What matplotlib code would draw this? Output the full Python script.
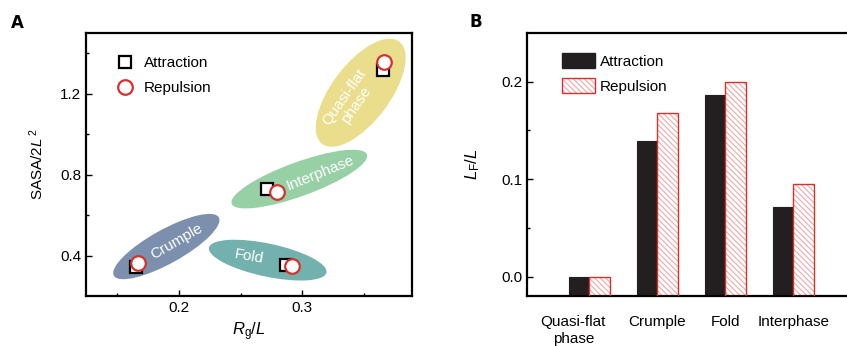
import matplotlib
matplotlib.use("Agg")
import matplotlib.pyplot as plt
from matplotlib.patches import Ellipse, Patch
from matplotlib.transforms import ScaledTranslation
from matplotlib.legend_handler import HandlerTuple

plt.rcParams['font.family'] = ['Liberation Sans', 'DejaVu Sans']
plt.rcParams['mathtext.fontset'] = 'custom'
plt.rcParams['mathtext.rm'] = 'Liberation Sans'
plt.rcParams['mathtext.it'] = 'Liberation Sans:italic'
plt.rcParams['hatch.linewidth'] = 0.8

# ---------------- data ----------------
phases = ["Quasi-flat phase", "Crumple", "Fold", "Interphase"]
# Panel A: Rg/L and SASA/2L^2
rg_attr = [0.366, 0.165, 0.287, 0.2713]
sasa_attr = [1.318, 0.347, 0.355, 0.729]
rg_rep = [0.367, 0.1664, 0.2916, 0.2794]
sasa_rep = [1.358, 0.367, 0.351, 0.715]
# phase regions (centre in data units)
region_labels = ["Quasi-flat\nphase", "Crumple", "Fold", "Interphase"]
region_cx = [0.3477, 0.1897, 0.2721, 0.2978]
region_cy = [1.205, 0.446, 0.379, 0.779]
region_colors = ["#EADD8C", "#7C8FAD", "#72B1AE", "#98D0A5"]
label_x = [0.339, 0.198, 0.257, 0.3146]
label_y = [1.162, 0.471, 0.394, 0.808]

# Panel B: LF/L
bar_labels = ["Quasi-flat\nphase", "Crumple", "Fold", "Interphase"]
lf_attr = [0.0, 0.139, 0.1864, 0.0715]
lf_rep = [0.0, 0.1676, 0.200, 0.0954]

# ---------------- figure ----------------
W, H = 847, 346
fig = plt.figure(figsize=(W / 100, H / 100), dpi=100)

def ax_rect(l, r, t, b):
    return [l / W, (H - b) / H, (r - l) / W, (b - t) / H]

FS = 11
RED = "#D7312E"

# ---- Panel A ----
axA = fig.add_axes(ax_rect(86, 412, 33, 296))
axA.set_xlim(0.1244, 0.3894)
axA.set_ylim(0.202, 1.50)

# ellipse geometry (semi-axes in px, angle in degrees)
ell_a = [64, 60, 60, 72]
ell_b = [29, 17, 16.5, 17]
ell_ang = [53, 29, -12, 20]
for cx, cy, col, a, b, ang in zip(region_cx, region_cy, region_colors, ell_a, ell_b, ell_ang):
    tr = fig.dpi_scale_trans + ScaledTranslation(cx, cy, axA.transData)
    e = Ellipse((0, 0), 2 * a / 100, 2 * b / 100, angle=ang, transform=tr,
                facecolor=col, edgecolor='none', zorder=1)
    axA.add_artist(e)

label_rot = [55, 30, -10, 22]
for lx, ly, txt, rot in zip(label_x, label_y, region_labels, label_rot):
    axA.text(lx, ly, txt, color='white', fontsize=FS, rotation=rot,
             ha='center', va='center', rotation_mode='anchor', zorder=2,
             linespacing=1.0)

axA.plot(rg_attr, sasa_attr, 's', ms=8.5, mfc='white', mec='black', mew=1.6,
         ls='none', zorder=3, label='Attraction')
axA.plot(rg_rep, sasa_rep, 'o', ms=10.5, mfc='white', mec=RED, mew=1.6,
         ls='none', zorder=4, label='Repulsion')
axA.legend(loc='upper left', bbox_to_anchor=(0.072, 0.936), frameon=False,
           fontsize=FS, handlelength=1.2, handletextpad=0.64, labelspacing=0.75,
           borderaxespad=0)

axA.set_xticks([0.2, 0.3])
axA.set_xticks([0.15, 0.25, 0.35], minor=True)
axA.set_yticks([0.4, 0.8, 1.2])
axA.set_yticks([0.6, 1.0, 1.4], minor=True)
axA.tick_params(which='both', direction='in', labelsize=FS, width=1.0,
                top=False, right=False)
axA.tick_params(which='major', length=4)
axA.tick_params(which='minor', length=2.5)
for s in axA.spines.values():
    s.set_linewidth(1.6)
axA.set_xlabel(r'$\mathit{R}_\mathrm{g}/\mathit{L}$', fontsize=FS + 1, labelpad=4)
axA.set_ylabel(r'SASA/2$\mathit{L}^{\,2}$', fontsize=FS, labelpad=10)
fig.text(17 / W, 1 - 23 / H, 'A', fontsize=12, fontweight='bold',
         ha='center', va='center', family='DejaVu Sans')

# ---- Panel B ----
axB = fig.add_axes(ax_rect(527, 847, 33, 296))
axB.set_xlim(-0.916, 3.79)
ybot = -0.0198
axB.set_ylim(ybot, 0.25)
xs = list(range(len(bar_labels)))
bw = 0.30
axB.bar([x - bw / 2 for x in xs], [v - ybot for v in lf_attr], bottom=ybot,
        width=bw, color='#231F20', edgecolor='#231F20', linewidth=0.8, zorder=2)
axB.bar([x + bw / 2 for x in xs], [v - ybot for v in lf_rep], bottom=ybot,
        width=bw, facecolor='white', edgecolor='#F0A8A8', hatch='\\\\\\\\\\\\',
        linewidth=0, zorder=2)
axB.bar([x + bw / 2 for x in xs], [v - ybot for v in lf_rep], bottom=ybot,
        width=bw, fill=False, edgecolor=RED, linewidth=1.0, zorder=3)

h_attr = Patch(facecolor='#231F20', edgecolor='#231F20')
h_rep1 = Patch(facecolor='white', edgecolor='#F0A8A8', hatch='\\\\\\\\\\\\', linewidth=0)
h_rep2 = Patch(fill=False, edgecolor=RED, linewidth=1.0)
axB.legend([h_attr, (h_rep1, h_rep2)], ['Attraction', 'Repulsion'],
           handler_map={tuple: HandlerTuple(ndivide=1)},
           loc='upper left', bbox_to_anchor=(0.109, 0.924), frameon=False,
           fontsize=FS, handlelength=2.15, handleheight=1.15,
           handletextpad=0.35, labelspacing=0.6, borderaxespad=0, borderpad=0)

axB.set_xticks(xs)
axB.set_xticklabels(bar_labels, fontsize=FS, linespacing=1.2)
axB.set_yticks([0.0, 0.1, 0.2])
axB.set_yticks([0.05, 0.15], minor=True)
axB.tick_params(axis='x', length=0, pad=14)
axB.tick_params(axis='y', which='both', direction='in', labelsize=FS, width=1.0)
axB.tick_params(axis='y', which='major', length=4)
axB.tick_params(axis='y', which='minor', length=2.5)
for s in axB.spines.values():
    s.set_linewidth(1.6)
axB.spines['right'].set_visible(False)
axB.set_ylabel(r'$\mathit{L}_\mathrm{F}/\mathit{L}$', fontsize=FS + 1, labelpad=14)
# shift the first tick label slightly left, as in the reference
lab0 = axB.get_xticklabels()[0]
lab0.set_transform(lab0.get_transform() + ScaledTranslation(-16 / 100, 0, fig.dpi_scale_trans))
fig.text(476 / W, 1 - 22 / H, 'B', fontsize=12, fontweight='bold',
         ha='center', va='center', family='DejaVu Sans')

fig.savefig('out.png', dpi=100)
